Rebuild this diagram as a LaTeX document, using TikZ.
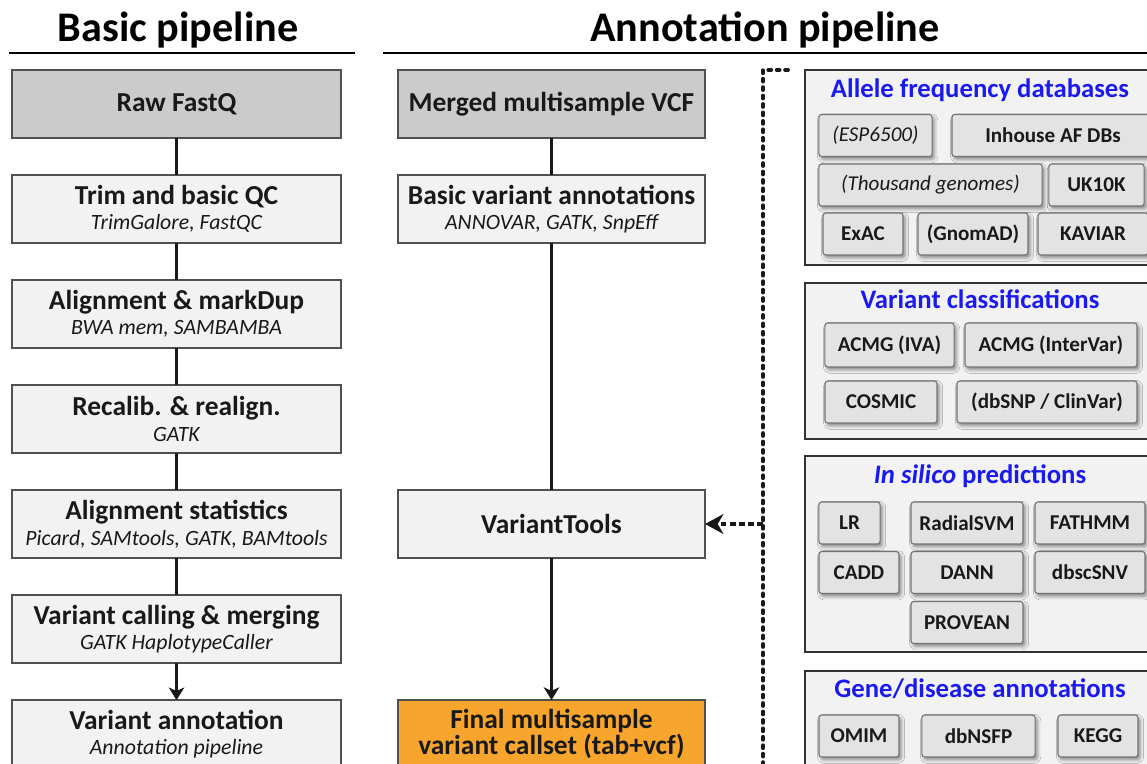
\documentclass[tikz,border=0pt]{standalone}
\usepackage{fontspec}
\setmainfont{Carlito}
\usetikzlibrary{positioning,arrows.meta,shadows.blur}

\definecolor{stagefill}{HTML}{F2F2F2}
\definecolor{stageline}{HTML}{505050}
\definecolor{sourcefill}{HTML}{CBCBCB}
\definecolor{finalfill}{HTML}{F7A52C}
\definecolor{toolfill}{HTML}{E3E3E3}
\definecolor{groupblue}{HTML}{1A1AF0}

\newcommand{\stagefont}{\fontsize{19.5}{21}\selectfont\bfseries}
\newcommand{\stagesub}{\fontsize{15.5}{17}\selectfont\mdseries\itshape}
\newcommand{\pipetitlefont}{\fontsize{30}{34}\selectfont\bfseries}
\newcommand{\groupfont}{\fontsize{19}{21}\selectfont\bfseries}
\newcommand{\toolfont}{\fontsize{15}{17}\selectfont\bfseries}

\tikzset{
  stage/.style={draw=stageline,line width=1pt,fill=stagefill,minimum width=8.225cm,minimum height=1.7cm,inner ysep=2pt,outer sep=0pt,align=center,font=\stagefont,text=black!90},
  source/.style={stage,fill=sourcefill},
  midstage/.style={stage,minimum width=7.675cm},
  midsource/.style={midstage,fill=sourcefill},
  group/.style={draw=black!80,line width=1pt,fill=stagefill},
  grouptitle/.style={anchor=base,font=\groupfont,text=groupblue},
  toolbox/.style={draw=black!55,line width=0.8pt,fill=toolfill,rounded corners=2pt,minimum height=1.05cm,font=\toolfont,text=black!90,
    blur shadow={shadow xshift=1.5pt,shadow yshift=-2pt,shadow blur radius=2.5pt,shadow opacity=45}},
  link/.style={line width=2pt,black!90},
  feed/.style={line width=2.4pt,black!90,dash pattern=on 4pt off 2.5pt,-{Stealth[length=13pt,width=14pt,inset=4pt]}},
  dots/.style={line width=2.8pt,black!90,line cap=round,dash pattern=on 2pt off 4pt}
}

\begin{document}
\begin{tikzpicture}[x=0.025cm,y=-0.025cm]
\useasboundingbox (0,0) rectangle (1147,764);

     %headers:
\node (basictitle) at (178,30) [font=\pipetitlefont] {Basic pipeline};
\node (annottitle) at (765,30) [font=\pipetitlefont] {Annotation pipeline};
\coordinate (basicruleL) at (9,53);
\coordinate (basicruleR) at (355,53);
\coordinate (annotruleL) at (383,53);
\coordinate (annotruleR) at (1150,53);
\draw [line width=1.8pt] (basicruleL) -- (basicruleR);
\draw [line width=1.8pt] (annotruleL) -- (annotruleR);

     %basic pipeline:
\node (raw) at (176.5,104) [source] {Raw FastQ};
\node (trim) [stage,below=0.925cm of raw] {Trim and basic QC\\[-3pt]{\stagesub TrimGalore, FastQC}};
\node (align) [stage,below=0.925cm of trim] {Alignment \& markDup\\[-3pt]{\stagesub BWA mem, SAMBAMBA}};
\node (recal) [stage,below=0.925cm of align] {Recalib. \& realign.\\[-3pt]{\stagesub GATK}};
\node (stats) [stage,below=0.925cm of recal] {Alignment statistics\\[-3pt]{\stagesub Picard, SAMtools, GATK, BAMtools}};
\node (call) [stage,below=0.925cm of stats] {Variant calling \& merging\\[-3pt]{\stagesub GATK HaplotypeCaller}};
\node (annot) [stage,below=0.925cm of call] {Variant annotation\\[-3pt]{\stagesub Annotation pipeline}};

\draw [link] (raw) -- (trim);
\draw [link] (trim) -- (align);
\draw [link] (align) -- (recal);
\draw [link] (recal) -- (stats);
\draw [link] (stats) -- (call);
\draw [link,-{Stealth[length=9pt,width=11pt,inset=2.5pt]}] (call) -- (annot);

     %annotation pipeline:
\node (merged) at (551.5,104) [midsource] {Merged multisample VCF};
\node (basicann) [midstage,below=0.925cm of merged] {Basic variant annotations\\[-3pt]{\stagesub ANNOVAR, GATK, SnpEff}};
\node (vtools) at (551.5,524) [midstage] {VariantTools};
\node (final) at (551.5,734) [midstage,fill=finalfill] {Final multisample\\[-3pt]variant callset (tab+vcf)};

\draw [link] (merged) -- (basicann);
\draw [link] (basicann) -- (vtools);
\draw [link,-{Stealth[length=9pt,width=11pt,inset=2.5pt]}] (vtools) -- (final);

     %annotation sources:
\node (afgroup) at (978.5,167.5) [group,minimum width=8.675cm,minimum height=4.875cm] {};
\node (aftitle) at (980,97) [grouptitle] {Allele frequency databases};
\node (esp) at (875.5,135.5) [toolbox,minimum width=2.83cm,font=\toolfont\mdseries\itshape] {(ESP6500)};
\node (inhouse) at (1053,135.5) [toolbox,minimum width=5.05cm] {Inhouse AF DBs};
\node (thousand) at (930.5,185) [toolbox,minimum width=5.58cm,font=\toolfont\mdseries\itshape] {(Thousand genomes)};
\node (uk) at (1096.5,185) [toolbox,minimum width=2.38cm] {UK10K};
\node (exac) at (863,234) [toolbox,minimum width=2cm] {ExAC};
\node (gnomad) at (973,234) [toolbox,minimum width=2.75cm] {(GnomAD)};
\node (kaviar) at (1093,234) [toolbox,minimum width=2.75cm] {KAVIAR};

\node (vcgroup) at (978.5,361) [group,minimum width=8.675cm,minimum height=3.9cm] {};
\node (vctitle) at (980,308) [grouptitle] {Variant classifications};
\node (iva) at (889.5,345) [toolbox,minimum width=3.23cm,minimum height=1.1cm] {ACMG (IVA)};
\node (intervar) at (1051,345) [toolbox,minimum width=4.3cm,minimum height=1.1cm] {ACMG (InterVar)};
\node (cosmic) at (881,402) [toolbox,minimum width=2.8cm] {COSMIC};
\node (clinvar) at (1047,402) [toolbox,minimum width=4.5cm] {(dbSNP / ClinVar)};

\node (isgroup) at (978.5,554) [group,minimum width=8.675cm,minimum height=4.9cm] {};
\node (istitle) at (980,483) [grouptitle] {\itshape In silico\/ \upshape predictions};
\node (lr) at (849.5,523) [toolbox,minimum width=1.53cm] {LR};
\node (radial) at (967,523) [toolbox,minimum width=2.8cm] {RadialSVM};
\node (fathmm) at (1090,523) [toolbox,minimum width=2.75cm] {FATHMM};
\node (cadd) at (859,572.5) [toolbox,minimum width=2cm] {CADD};
\node (dann) at (967,572.5) [toolbox,minimum width=2.8cm] {DANN};
\node (dbscsnv) at (1090,572.5) [toolbox,minimum width=2.75cm] {dbscSNV};
\node (provean) at (967,622.5) [toolbox,minimum width=2.8cm] {PROVEAN};

\node (gdgroup) at (978.5,735.5) [group,minimum width=8.675cm,minimum height=3.225cm] {};
\node (gdtitle) at (980,697) [grouptitle] {Gene/disease annotations};
\node (omim) at (859,736) [toolbox,minimum width=2cm] {OMIM};
\node (dbnsfp) at (978.5,736) [toolbox,minimum width=2.83cm] {dbNSFP};
\node (kegg) at (1098,736) [toolbox,minimum width=2cm] {KEGG};

     %feed into VariantTools:
\coordinate (dotstart) at (788,70);
\coordinate (dotcorner) at (763,70);
\coordinate (dotend) at (763,775);
\coordinate (dottap) at (763,524);
\draw [dots] (dotstart) -- (dotcorner) -- (dotend);
\draw [feed] (dottap) -- (vtools.east);
\end{tikzpicture}
\end{document}
